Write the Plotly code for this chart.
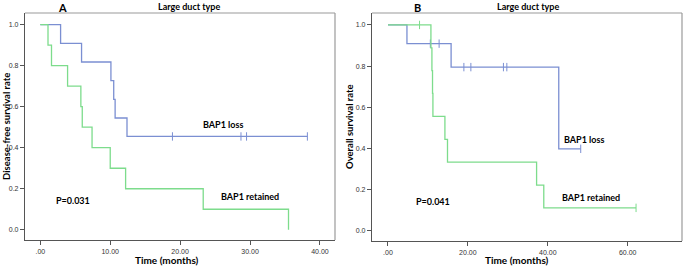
import plotly.graph_objects as go

# ---- data ----
a_loss_t = [0, 2.9, 5.9, 10.1, 10.5, 10.7, 12.4, 38.2]
a_loss_s = [1.0, 0.909, 0.818, 0.727, 0.636, 0.545, 0.455, 0.455]
a_loss_cens = [18.9, 28.7, 29.5, 38.2]

a_ret_t = [0, 1.1, 1.6, 3.9, 5.8, 6.0, 7.4, 10.0, 12.2, 23.3, 35.5]
a_ret_s = [1.0, 0.9, 0.8, 0.7, 0.6, 0.5, 0.4, 0.3, 0.2, 0.1, 0.0]
a_ret_cens = []

b_loss_t = [0, 4.75, 15.8, 42.75, 48.25]
b_loss_s = [1.0, 0.909, 0.795, 0.398, 0.398]
b_loss_cens = [10.6, 12.8, 19.0, 20.75, 28.9, 29.75, 48.25]

b_ret_t = [0, 10.75, 11.0, 11.15, 11.25, 14.25, 14.9, 37.2, 39.0, 62.1]
b_ret_s = [1.0, 0.889, 0.778, 0.667, 0.556, 0.444, 0.333, 0.222, 0.111, 0.111]
b_ret_cens = [7.9, 62.1]

y_ticks = [0.0, 0.2, 0.4, 0.6, 0.8, 1.0]
y_ticktext = ["0.0", "0.2", "0.4", "0.6", "0.8", "1.0"]
a_xticks = [0, 10, 20, 30, 40]
a_xticktext = [".00", "10.00", "20.00", "30.00", "40.00"]
b_xticks = [0, 20, 40, 60]
b_xticktext = [".00", "20.00", "40.00", "60.00"]

BLUE = "#7b8fd2"
GREEN = "#7ddc8c"
FONT = "Lato, Liberation Sans, Arial, sans-serif"


def surv_at(times, surv, t):
    val = surv[0]
    for ti, si in zip(times, surv):
        if ti <= t:
            val = si
    return val


fig = go.Figure()


def add_curve(times, surv, cens, color, xa, ya):
    fig.add_trace(go.Scatter(x=times, y=surv, mode="lines", line=dict(color=color, width=1.3, shape="hv"),
                             xaxis=xa, yaxis=ya, showlegend=False, hoverinfo="skip"))
    if cens:
        fig.add_trace(go.Scatter(x=cens, y=[surv_at(times, surv, c) for c in cens], mode="markers",
                                 marker=dict(symbol="line-ns", size=6, line=dict(color=color, width=1)),
                                 xaxis=xa, yaxis=ya, showlegend=False, hoverinfo="skip"))


add_curve(a_loss_t, a_loss_s, a_loss_cens, BLUE, "x", "y")
add_curve(a_ret_t, a_ret_s, a_ret_cens, GREEN, "x", "y")
add_curve(b_loss_t, b_loss_s, b_loss_cens, BLUE, "x2", "y2")
add_curve(b_ret_t, b_ret_s, b_ret_cens, GREEN, "x2", "y2")

W, H = 685, 267
axis_common = dict(showgrid=False, zeroline=False, showline=True, linecolor="#555555", linewidth=1.2,
                   ticks="outside", ticklen=4, tickcolor="#555555", tickfont=dict(size=7, color="#333333", family="Liberation Sans, Arial"))

fig.update_layout(
    width=W, height=H, margin=dict(l=0, r=0, t=0, b=0),
    plot_bgcolor="white", paper_bgcolor="white",
    font=dict(family=FONT),
    xaxis=dict(domain=[25 / W, 335 / W], range=[-2.19, 42.15], tickvals=a_xticks, ticktext=a_xticktext, anchor="y", **axis_common),
    yaxis=dict(domain=[(H - 240) / H, (H - 13) / H], range=[-0.050, 1.057], tickvals=y_ticks, ticktext=y_ticktext, anchor="x", **axis_common),
    xaxis2=dict(domain=[372 / W, 682 / W], range=[-4.0, 73.6], tickvals=b_xticks, ticktext=b_xticktext, anchor="y2", **axis_common),
    yaxis2=dict(domain=[(H - 241) / H, (H - 13) / H], range=[-0.050, 1.058], tickvals=y_ticks, ticktext=y_ticktext, anchor="x2", **axis_common),
)

# top/right borders (lighter)
for xr, yr in [("x domain", "y domain"), ("x2 domain", "y2 domain")]:
    fig.add_shape(type="line", xref=xr, yref=yr, x0=0, x1=1, y0=1, y1=1, line=dict(color="#9a9a9a", width=1.2))
    fig.add_shape(type="line", xref=xr, yref=yr, x0=1, x1=1, y0=0, y1=1, line=dict(color="#9a9a9a", width=1.2))


def ann(text, px, py, size, angle=0, yanchor="middle"):
    fig.add_annotation(text=text, x=px / W, y=1 - py / H, xref="paper", yref="paper", showarrow=False,
                       font=dict(size=size, color="black", family=FONT), textangle=angle,
                       xanchor="center", yanchor=yanchor, borderpad=0)


ann("<b>A</b>", 63, 0, 11, yanchor="top")
ann("<b>Large duct type</b>", 189, 0, 9, yanchor="top")
ann("<b>B</b>", 417, 0, 11, yanchor="top")
ann("<b>Large duct type</b>", 528, 0, 9, yanchor="top")
ann("<b>Disease-free survival rate</b>", 6, 127, 9.5, -90)
ann("<b>Overall survival rate</b>", 349, 127, 9.5, -90)
ann("<b>Time (months)</b>", 167, 260, 10)
ann("<b>Time (months)</b>", 517, 260, 10)
ann("<b>BAP1 loss</b>", 223, 124, 9)
ann("<b>P=0.031</b>", 73, 200, 9)
ann("<b>BAP1 retained</b>", 250, 196, 9)
ann("<b>BAP1 loss</b>", 584, 139, 9)
ann("<b>P=0.041</b>", 433, 201, 9)
ann("<b>BAP1 retained</b>", 591, 197, 9)

fig.write_html("out.html", config={"displayModeBar": False},
               post_script="document.body.style.margin='0';document.body.style.padding='0';")
